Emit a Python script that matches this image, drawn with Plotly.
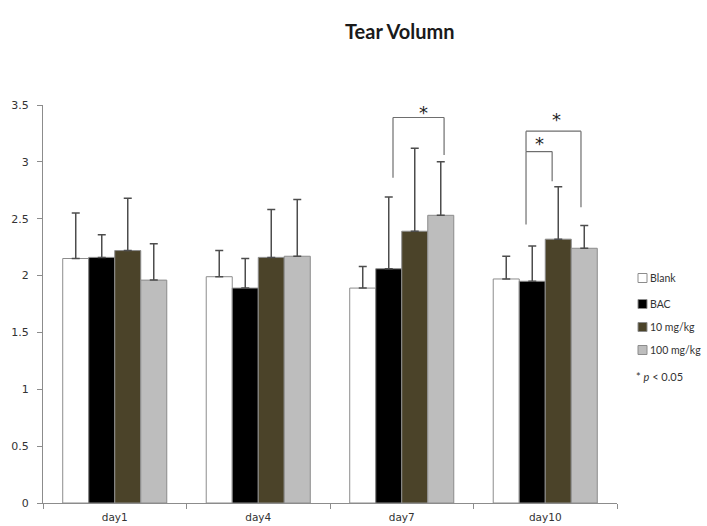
import plotly.graph_objects as go

# Tear volume by day and treatment group (mean with upward SD)
days = ["day1", "day4", "day7", "day10"]
series_names = ["Blank", "BAC", "10 mg/kg", "100 mg/kg"]
series_colors = ["#ffffff", "#000000", "#4b4329", "#bdbdbd"]

blank_mean = [2.15, 1.99, 1.89, 1.97]
blank_sd = [0.40, 0.23, 0.19, 0.20]
bac_mean = [2.16, 1.89, 2.06, 1.95]
bac_sd = [0.20, 0.26, 0.63, 0.31]
low_mean = [2.22, 2.16, 2.39, 2.32]
low_sd = [0.46, 0.42, 0.73, 0.46]
high_mean = [1.96, 2.17, 2.53, 2.24]
high_sd = [0.32, 0.50, 0.47, 0.20]

means = [blank_mean, bac_mean, low_mean, high_mean]
sds = [blank_sd, bac_sd, low_sd, high_sd]

# Significance brackets: (left x, right x, top y, left foot y, right foot y, star x, star y)
brackets = [
    (1.939, 2.295, 3.39, 2.86, 3.06, 2.155, 3.43),
    (2.866, 3.048, 3.09, 2.45, 2.83, 2.963, 3.16),
    (2.866, 3.249, 3.27, 3.09, 2.60, 3.080, 3.37),
]

fig = go.Figure()
for name, color, m, s in zip(series_names, series_colors, means, sds):
    fig.add_trace(go.Bar(
        x=days, y=m, name=name,
        marker=dict(color=color, line=dict(color="#8c8c8c", width=1)),
        error_y=dict(type="data", symmetric=False, array=s,
                     arrayminus=[0] * len(s), color="#4d4d4d",
                     thickness=1.5, width=4),
        showlegend=False,
    ))

shapes = []
annotations = []
line_style = dict(color="#6e6e6e", width=1.2)
for x0, x1, ytop, yl, yr, sx, sy in brackets:
    shapes.append(dict(type="line", xref="x", yref="y", x0=x0, x1=x0, y0=yl, y1=ytop, line=line_style))
    shapes.append(dict(type="line", xref="x", yref="y", x0=x0, x1=x1, y0=ytop, y1=ytop, line=line_style))
    shapes.append(dict(type="line", xref="x", yref="y", x0=x1, x1=x1, y0=ytop, y1=yr, line=line_style))
    annotations.append(dict(x=sx, y=sy, xref="x", yref="y", text="*", showarrow=False,
                            font=dict(family="DejaVu Sans", size=18, color="#222222"),
                            yanchor="middle", xanchor="center"))

# Legend block on the right
plot_l, plot_w, plot_b, plot_h = 43, 574, 503, 398
def px_x(px):
    return (px - plot_l) / plot_w
def px_y(py):
    return (plot_b - py) / plot_h

legend_rows = [278, 304, 327, 350]
for name, color, row in zip(series_names, series_colors, legend_rows):
    shapes.append(dict(type="rect", xref="paper", yref="paper",
                       x0=px_x(638), x1=px_x(647), y0=px_y(row + 4.5), y1=px_y(row - 4.5),
                       fillcolor=color, line=dict(color="#8c8c8c", width=1)))
    annotations.append(dict(x=px_x(648), y=px_y(row), xref="paper", yref="paper",
                            text=name, showarrow=False, xanchor="left", yanchor="middle",
                            font=dict(family="Lato", size=10.5, color="#333333")))
annotations.append(dict(x=px_x(634), y=px_y(376), xref="paper", yref="paper",
                        text="* <i>p</i> &lt; 0.05", showarrow=False, xanchor="left", yanchor="middle",
                        font=dict(family="Lato", size=11, color="#333333")))

# Title
annotations.append(dict(x=px_x(400), y=px_y(31), xref="paper", yref="paper",
                        text="<b>Tear Volumn</b>", showarrow=False,
                        xanchor="center", yanchor="middle",
                        font=dict(family="Lato", size=20, color="#1a1a1a")))

fig.update_layout(
    width=707, height=526,
    margin=dict(l=plot_l, r=707 - plot_l - plot_w, t=plot_b - plot_h, b=526 - plot_b),
    paper_bgcolor="white", plot_bgcolor="white",
    barmode="group", bargap=0.275, bargroupgap=0,
    shapes=shapes, annotations=annotations,
    font=dict(family="DejaVu Sans", size=10, color="#404040"),
)
fig.update_xaxes(
    automargin=False,
    showline=True, linecolor="#8c8c8c", linewidth=1,
    ticks="outside", tickson="boundaries", ticklen=5, tickcolor="#8c8c8c",
    ticklabelstandoff=4,
    showgrid=False, tickfont=dict(family="DejaVu Sans", size=10.5, color="#333333"),
)
fig.update_yaxes(
    automargin=False,
    range=[0, 3.5], dtick=0.5, showline=True, linecolor="#8c8c8c", linewidth=1,
    ticks="outside", ticklen=5, tickcolor="#8c8c8c", showgrid=False, zeroline=False,
    ticklabelstandoff=6,
    tickfont=dict(family="DejaVu Sans", size=11, color="#333333"),
)

fig.write_html("out.html")
